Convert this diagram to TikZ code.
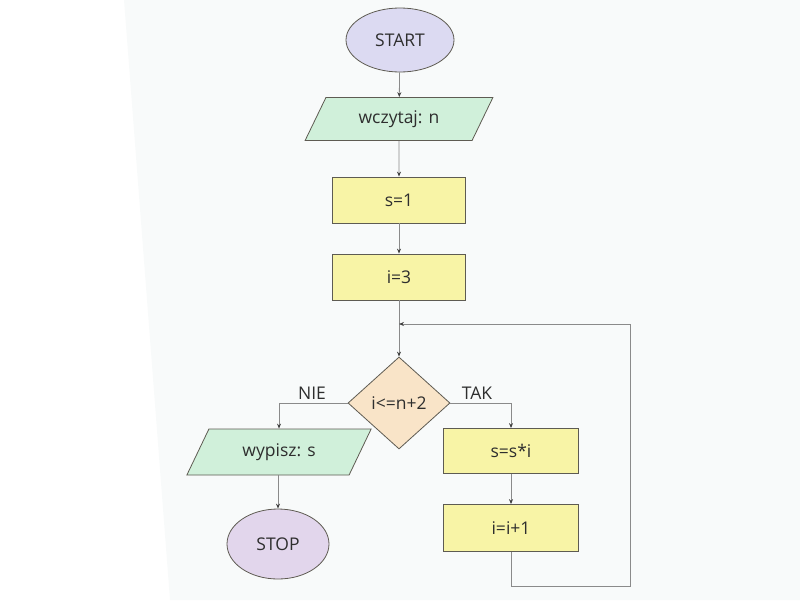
\documentclass[tikz,border=0pt]{standalone}
\usepackage{fontspec}
\setmainfont{Open Sans}
\usetikzlibrary{shapes.geometric,arrows.meta}
\definecolor{startfill}{HTML}{DCDAF2}
\definecolor{stopfill}{HTML}{E2D6EC}
\definecolor{iofill}{HTML}{D0F0DA}
\definecolor{procfill}{HTML}{F8F4A6}
\definecolor{decfill}{HTML}{F9E4C8}
\definecolor{edge}{HTML}{5E5B52}
\definecolor{conn}{HTML}{8A8A8A}
\definecolor{txt}{HTML}{2E2E2E}
\definecolor{page}{HTML}{F8FAFA}
\tikzset{
  base/.style={draw=edge, line width=0.8pt, text=txt, font=\fontsize{17.5}{20}\selectfont, inner sep=0pt},
  term/.style={base, ellipse, minimum width=108pt, minimum height=64pt},
  io/.style={base, trapezium, trapezium left angle=56, trapezium right angle=124, trapezium stretches=true, fill=iofill, minimum width=188pt, minimum height=43pt},
  proc/.style={base, rectangle, fill=procfill, minimum width=133pt, minimum height=46pt},
  dec/.style={base, diamond, fill=decfill, minimum width=102pt, minimum height=92pt},
  conn/.style={draw=conn, line width=0.8pt, -{Stealth[length=5pt,width=4pt,color=black!75]}},
  lab/.style={text=txt, font=\fontsize{17.5}{20}\selectfont, inner sep=0pt}
}
\begin{document}
\begin{tikzpicture}[x=1pt,y=-1pt]
\useasboundingbox (0,0) rectangle (800,600);
\fill[page] (124,0) -- (800,0) -- (800,600) -- (170,600) -- cycle;

\node[term, fill=startfill] (start) at (400,40) {START};
\node[io] (in1) at (399,119) {wczytaj: n};
\node[proc] (s1) at (399,200) {s=1};
\node[proc] (i3) at (399,277) {i=3};
\coordinate (j) at (399,324);
\node[dec] (cond) at (399,403) {\makebox[0pt]{i<=n+2}};
\node[io, minimum width=186pt, minimum height=46pt] (out) at (279,452) {wypisz: s};
\node[term, fill=stopfill, minimum width=102pt, minimum height=70pt] (stop) at (278,544) {STOP};
\node[proc, minimum width=135pt, minimum height=45pt] (mul) at (511,451) {s=s*i};
\node[proc, minimum width=135pt, minimum height=47pt] (inc) at (511,528) {i=i+1};
\coordinate (r) at (630,586);

\draw[conn] (start) -- (in1);
\draw[conn] (in1) -- (s1);
\draw[conn] (s1) -- (i3);
\draw[conn] (i3) -- (cond);
\draw[conn] (cond.west) -| (out.north);
\draw[conn] (cond.east) -| (mul.north);
\draw[conn] (stop.north |- out.south) -- (stop.north);
\draw[conn] (mul) -- (inc);
\draw[conn] (inc.south) |- (r) |- (j);

\node[lab] (nie) at (312,393) {NIE};
\node[lab] (tak) at (477,393) {TAK};
\end{tikzpicture}
\end{document}
